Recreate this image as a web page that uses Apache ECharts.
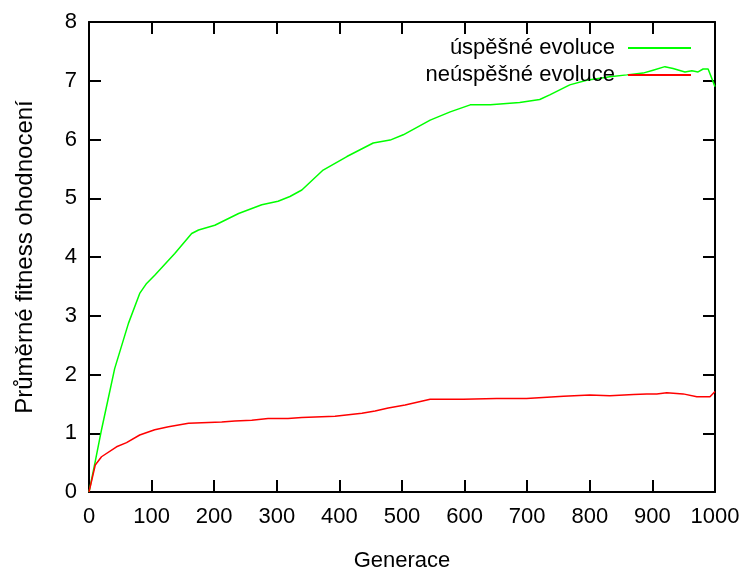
<!DOCTYPE html>
<html>
<head>
	<meta charset="utf-8">
	<title>Průměrné fitness ohodnocení</title>
	<script src="https://cdn.jsdelivr.net/npm/echarts@6/dist/echarts.min.js"></script>
	<style>
		html, body { margin: 0; padding: 0; background: #fff; }
		#main { width: 747px; height: 574px; }
	</style>
</head>
<body>
<div id="main"></div>
<script type="text/javascript">
// úspěšné evoluce - generace a průměrné fitness
var generaceUspesne = [0, 10, 20, 41, 63, 81, 92, 105, 137, 164, 175, 201, 239, 276, 302, 321, 340, 374, 412, 454, 481, 502, 545, 577, 609, 641, 688, 720, 736, 768, 795, 832, 859, 885, 901, 920, 933, 952, 963, 973, 981, 989, 1000];
var fitnessUspesne = [0, 0.52, 1.06, 2.1, 2.87, 3.38, 3.55, 3.69, 4.06, 4.40, 4.46, 4.54, 4.74, 4.89, 4.95, 5.03, 5.14, 5.48, 5.71, 5.94, 5.99, 6.08, 6.33, 6.47, 6.59, 6.59, 6.63, 6.68, 6.76, 6.93, 7.01, 7.07, 7.10, 7.13, 7.18, 7.24, 7.21, 7.15, 7.17, 7.15, 7.20, 7.20, 6.90];

// neúspěšné evoluce
var generaceNeuspesne = [0, 10, 20, 44, 60, 81, 105, 127, 159, 212, 233, 260, 286, 318, 340, 393, 436, 457, 478, 505, 545, 598, 651, 699, 758, 800, 832, 870, 891, 907, 923, 949, 971, 992, 1000];
var fitnessNeuspesne = [0, 0.46, 0.60, 0.77, 0.84, 0.97, 1.06, 1.11, 1.17, 1.19, 1.21, 1.22, 1.25, 1.25, 1.27, 1.29, 1.34, 1.38, 1.43, 1.48, 1.58, 1.58, 1.59, 1.59, 1.63, 1.65, 1.64, 1.66, 1.67, 1.67, 1.69, 1.67, 1.62, 1.62, 1.71];

var nazvySerii = ['úspěšné evoluce', 'neúspěšné evoluce'];
var nazevOsyY = 'Průměrné fitness ohodnocení';

function dvojice(xs, ys) {
	var out = [];
	for (var i = 0; i < xs.length; i++) {
		out.push([xs[i], ys[i]]);
	}
	return out;
}

var myChart = echarts.init(document.getElementById('main'));
var pismo = 'Liberation Sans';

// kazda osa dostane vlastni objekt (ticky dovnitr jako v gnuplotu)
function osaStyl() {
	return { show: true, onZero: false, lineStyle: { color: '#000', width: 2 } };
}
function tickStyl() {
	return { show: true, inside: true, length: 12, lineStyle: { color: '#000', width: 2 } };
}

var option = {
	animation: false,
	textStyle: { fontFamily: pismo },
	grid: { left: 89, right: 32, top: 22, bottom: 82, outerBoundsMode: 'none', containLabel: false },
	// popisek osy y zvlast (svisly text)
	graphic: [{
		type: 'text',
		x: 25,
		y: 257,
		rotation: Math.PI / 2,
		style: {
			text: nazevOsyY,
			fontFamily: pismo,
			fontSize: 24,
			fill: '#000',
			align: 'center',
			verticalAlign: 'middle'
		}
	}],
	legend: {
		orient: 'vertical',
		right: 51,
		top: 32,
		align: 'right',
		itemGap: 5,
		itemWidth: 63,
		itemHeight: 2,
		icon: 'rect',
		textStyle: { fontFamily: pismo, fontSize: 22, color: '#000', padding: [0, 8, 0, 0] },
		data: nazvySerii
	},
	xAxis: [{
		type: 'value',
		min: 0, max: 1000, interval: 100,
		name: 'Generace',
		nameLocation: 'middle',
		nameGap: 58,
		nameTextStyle: { fontFamily: pismo, fontSize: 22, color: '#000' },
		axisLine: osaStyl(),
		axisTick: tickStyl(),
		axisLabel: { fontFamily: pismo, fontSize: 22, color: '#000', margin: 14, formatter: function (v) { return String(v); } },
		splitLine: { show: false }
	}, {
		type: 'value', position: 'top',
		min: 0, max: 1000, interval: 100,
		axisLine: osaStyl(),
		axisTick: tickStyl(),
		axisLabel: { show: false },
		splitLine: { show: false }
	}],
	yAxis: [{
		type: 'value',
		min: 0, max: 8, interval: 1,
		axisLine: osaStyl(),
		axisTick: tickStyl(),
		axisLabel: { fontFamily: pismo, fontSize: 22, color: '#000', margin: 12 },
		splitLine: { show: false }
	}, {
		type: 'value', position: 'right',
		min: 0, max: 8, interval: 1,
		axisLine: osaStyl(),
		axisTick: tickStyl(),
		axisLabel: { show: false },
		splitLine: { show: false }
	}],
	series: [{
		name: nazvySerii[0],
		type: 'line',
		symbol: 'none',
		color: '#00ff00',
		lineStyle: { color: '#00ff00', width: 1.5 },
		data: dvojice(generaceUspesne, fitnessUspesne)
	}, {
		name: nazvySerii[1],
		type: 'line',
		symbol: 'none',
		color: '#ff0000',
		lineStyle: { color: '#ff0000', width: 1.5 },
		data: dvojice(generaceNeuspesne, fitnessNeuspesne)
	}]
};

myChart.setOption(option);
</script>
</body>
</html>
